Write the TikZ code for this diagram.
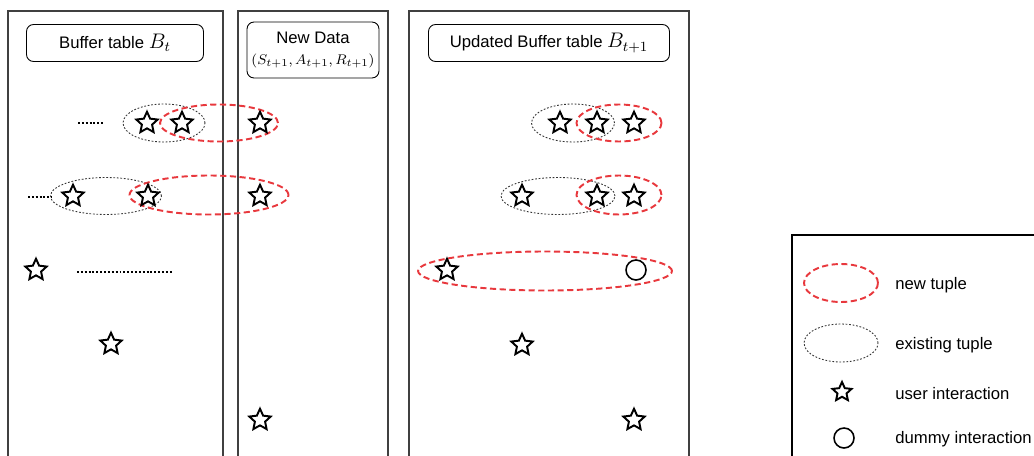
\documentclass[tikz,border=0pt]{standalone}
\usepackage{fontspec}
\setmainfont{Liberation Sans}
\usetikzlibrary{shapes.geometric}
\definecolor{tuplered}{HTML}{E8383D}
\newcommand{\bigmath}[1]{{\fontsize{11.5}{13}\selectfont$#1$}}
\tikzset{every picture/.style={x=0.02cm, y=-0.02cm}}
\tikzset{panel/.style={draw=black!75, line width=1.1pt}}
\tikzset{title/.style={draw, rounded corners=4pt, line width=0.5pt, align=center, inner sep=1pt, font=\fontsize{9.5}{11}\selectfont}}
\tikzset{user/.style={star, star points=5, star point ratio=2.1, draw, line width=1.1pt, minimum size=0.45cm, inner sep=0pt}}
\tikzset{dummy/.style={circle, draw, line width=0.9pt, minimum size=0.4cm, inner sep=0pt}}
\tikzset{newtuple/.style={ellipse, draw=tuplered, line width=1.1pt, dash pattern=on 3.5pt off 2pt, inner sep=0pt}}
\tikzset{oldtuple/.style={ellipse, draw=black!80, line width=0.5pt, dash pattern=on 1pt off 1pt, inner sep=0pt}}
\tikzset{dots/.style={line width=1.6pt, dash pattern=on 1.1pt off 1.1pt}}
\tikzset{legendtext/.style={anchor=west, inner sep=0pt, font=\fontsize{9.5}{11}\selectfont}}

\begin{document}
\begin{tikzpicture}
\useasboundingbox (0,0) rectangle (1034,456);
\clip (0,0) rectangle (1034,456);

% panels
\draw[panel] (8,11) rectangle (223,480);
\draw[panel] (238,11) rectangle (388,480);
\draw[panel] (409,11) rectangle (689,480);

\node[title, minimum width=3.54cm, minimum height=0.74cm] (buf) at (115,43) {Buffer table \bigmath{B_t}};
\node[title, minimum width=2.64cm, minimum height=1.12cm] (new) at (313,50)
  {New Data\\[1pt]{\fontsize{8.5}{10}\selectfont$(S_{t+1},A_{t+1},R_{t+1})$}};
\node[title, minimum width=4.82cm, minimum height=0.74cm] (upd) at (549,43) {Updated Buffer table \bigmath{B_{t+1}}};

% tuples
\node[oldtuple, minimum width=1.64cm, minimum height=0.76cm] (o1) at (164,123) {};
\node[newtuple, minimum width=2.36cm, minimum height=0.74cm] (n1) at (219,123) {};
\node[oldtuple, minimum width=2.22cm, minimum height=0.74cm] (o2) at (106,196) {};
\node[newtuple, minimum width=3.18cm, minimum height=0.78cm] (n2) at (209,195) {};
\node[oldtuple, minimum width=1.66cm, minimum height=0.76cm] (o3) at (573,123) {};
\node[newtuple, minimum width=1.70cm, minimum height=0.74cm] (n3) at (619,123) {};
\node[oldtuple, minimum width=2.28cm, minimum height=0.74cm] (o4) at (558,196) {};
\node[newtuple, minimum width=1.70cm, minimum height=0.78cm] (n4) at (619,195) {};
\node[newtuple, minimum width=5.08cm, minimum height=0.78cm] (n5) at (545,271) {};

% interactions
\foreach \x/\y [count=\i] in {147/123, 182/123, 260/123, 73/196, 148/196, 260/196,
    36/270, 111/344, 260/420, 560/123, 597/123, 634/123, 522/196, 597/196,
    634/196, 447/270, 522/345, 634/420} {
    \node[user] (u\i) at (\x,\y) {};
}
\node[dummy] (d1) at (636,270) {};

% omitted entries
\coordinate (a1) at (78,123);  \coordinate (b1) at (104,123);
\coordinate (a2) at (28,197);  \coordinate (b2) at (52,197);
\coordinate (a3) at (77,272);  \coordinate (b3) at (173,272);
\foreach \i in {1,2,3} {
    \draw[dots] (a\i) -- (b\i);
}

% legend
\draw[line width=0.6pt] (792,235) rectangle (1040,470);
\node[newtuple, minimum width=1.48cm, minimum height=0.76cm] (ln) at (841,283) {};
\node[oldtuple, minimum width=1.48cm, minimum height=0.76cm] (lo) at (841,343) {};
\node[user, minimum size=0.4cm] (lu) at (842,392) {};
\node[dummy] (ld) at (844,438) {};
\node[legendtext] (tn) at (895,285) {new tuple};
\node[legendtext] (to) at (895,345) {existing tuple};
\node[legendtext] (tu) at (895,394) {user interaction};
\node[legendtext] (td) at (895,439) {dummy interaction};
\end{tikzpicture}
\end{document}
